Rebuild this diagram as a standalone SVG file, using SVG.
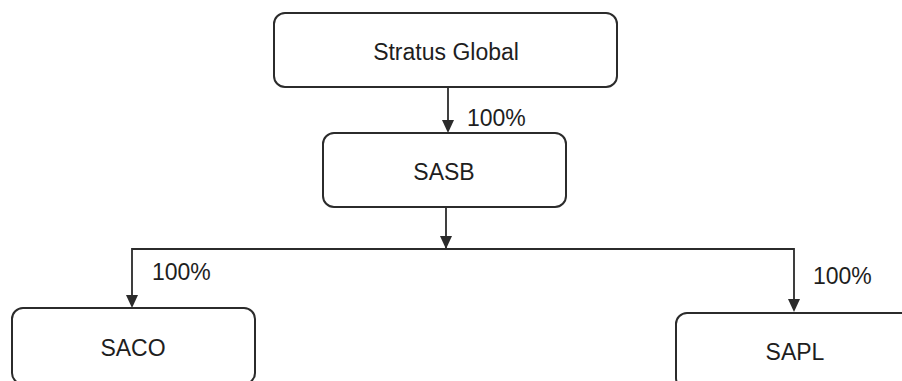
<svg xmlns="http://www.w3.org/2000/svg" width="902" height="381" viewBox="0 0 902 381">
  <style>
    .box { fill: #ffffff; stroke: #2b2b2b; stroke-width: 2; }
    .label { font-family: "Liberation Sans", Arial, sans-serif; font-size: 23px; fill: #1e1e1e; }
    .wire { fill: none; stroke: #2b2b2b; stroke-width: 1.8; }
    .head { fill: #2b2b2b; }
  </style>
  <rect width="902" height="381" fill="#ffffff"/>

  <g id="connectors">
    <!-- Stratus Global to SASB -->
    <line class="wire" x1="448" y1="87" x2="448" y2="122"/>
    <path class="head" d="M442,120 L454,120 L448,133 Z"/>
    <!-- SASB down to the bus -->
    <line class="wire" x1="446" y1="207" x2="446" y2="249"/>
    <path class="head" d="M440,236 L452,236 L446,249 Z"/>
    <!-- bus to SACO and SAPL -->
    <polyline class="wire" points="132,298 132,249 794,249 794,302"/>
    <path class="head" d="M126,295 L138,295 L132,308 Z"/>
    <path class="head" d="M788,299 L800,299 L794,312 Z"/>
    <text class="label" x="467" y="126">100%</text>
    <text class="label" x="152" y="280">100%</text>
    <text class="label" x="813" y="284">100%</text>
  </g>

  <g id="stratus-global">
    <rect class="box" x="274" y="13" width="343" height="74" rx="11"/>
    <text class="label" x="446" y="60" text-anchor="middle">Stratus Global</text>
  </g>

  <g id="sasb">
    <rect class="box" x="323" y="133" width="243" height="74" rx="11"/>
    <text class="label" x="444" y="180" text-anchor="middle">SASB</text>
  </g>

  <g id="saco">
    <rect class="box" x="12" y="308" width="243" height="76" rx="11"/>
    <text class="label" x="133" y="356" text-anchor="middle">SACO</text>
  </g>

  <g id="sapl">
    <rect class="box" x="676" y="313" width="240" height="76" rx="11"/>
    <text class="label" x="795" y="360" text-anchor="middle">SAPL</text>
  </g>
</svg>
